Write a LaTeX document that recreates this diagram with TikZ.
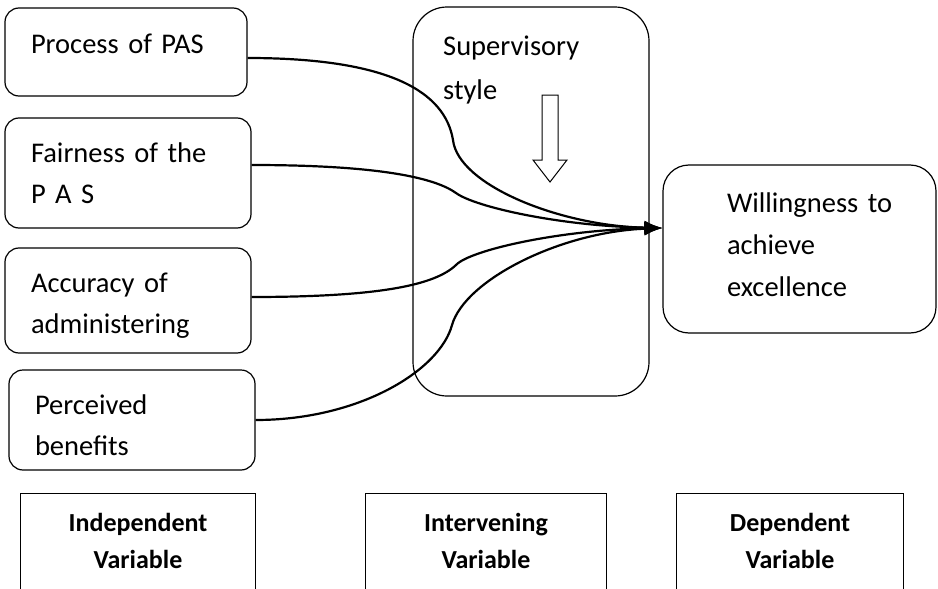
\documentclass[tikz,border=0pt]{standalone}
\usepackage{fontspec}
\setmainfont{Carlito}
\usetikzlibrary{arrows.meta,calc,positioning}
\tikzset{
    factor/.style={draw, line width=1.2pt, rounded corners=14pt, inner sep=0pt, align=left,
        font=\fontsize{28.5}{41}\selectfont},
    vartag/.style={inner sep=0pt, align=center, text height=37pt,
        font=\bfseries\fontsize{26}{37}\selectfont},
    link/.style={line width=2.2pt, -{Latex[length=18pt,width=14pt]}}
}

\begin{document}
\begin{tikzpicture}[x=1pt, y=-1pt]
    \useasboundingbox (0,0) rectangle (938,589);
    % independent variables
    \node[factor, minimum width=242pt, minimum height=88pt, text width=190pt,
        text height=20pt, text depth=18pt] (proc) at (126,52) {Process of PAS};
    \node[factor, minimum width=246pt, minimum height=110pt, text width=194pt] (fair) at (128,173) {Fairness of the\\P A S};
    \node[factor, minimum width=246pt, minimum height=105pt, text width=194pt,
        text depth=35pt] (acc) at (128,300.5) {Accuracy of\\administering};
    \node[factor, minimum width=246pt, minimum height=100pt, text width=194pt,
        text depth=31pt] (perc) at (132,420) {Perceived\\benefits};
    % intervening variable
    \node[factor, rounded corners=34pt, minimum width=236pt, minimum height=389pt] (mid) at (531,201.5) {};
    \node[anchor=base west, inner sep=0pt, align=left, text width=160pt,
        font=\fontsize{28.5}{44}\selectfont] (sup) at (443,55) {Supervisory\\style};
    \draw[line width=1pt] (542,95) -- (558,95) -- (558,160) -- (567,160) -- (550,182) -- (533,160) -- (542,160) -- cycle;
    % dependent variable
    \node[factor, rounded corners=26pt, minimum width=273pt, minimum height=168pt, text width=145pt,
        text depth=92pt, font=\fontsize{28.5}{42}\selectfont] (will) at (799.5,249) {Willingness~to\\achieve\\excellence};
    % links
    \draw[link] ([yshift=-6pt]proc.east) .. controls (390,58) and (445,92) .. (453,140)
        .. controls (458,185) and (560,226) .. ([yshift=21pt]will.west);
    \draw[link] ([yshift=8pt]fair.east) .. controls (380,165) and (435,178) .. (456,193)
        .. controls (475,207) and (560,226) .. ([yshift=21pt]will.west);
    \draw[link] ([yshift=3.5pt]acc.east) .. controls (380,297) and (435,285) .. (456,265)
        .. controls (470,250) and (560,230) .. ([yshift=21pt]will.west);
    \draw[link] (perc.east) .. controls (360,420) and (440,370) .. (452,325)
        .. controls (465,280) and (560,232) .. ([yshift=21pt]will.west);
    % variable types
    \node[vartag, minimum width=234pt, text width=234pt, anchor=base] (indep) at (138,531) {Independent\\Variable};
    \node[vartag, minimum width=240pt, text width=240pt, anchor=base] (interv) at (486,531) {Intervening\\Variable};
    \node[vartag, minimum width=226pt, text width=226pt, anchor=base] (dep) at (790,531) {Dependent\\Variable};
    \coordinate (floor) at (0,589);
    \foreach \v in {indep, interv, dep}
        \draw[line width=1.2pt] (\v.north west |- floor) -- (\v.north west) -- (\v.north east) -- (\v.north east |- floor);
\end{tikzpicture}
\end{document}
